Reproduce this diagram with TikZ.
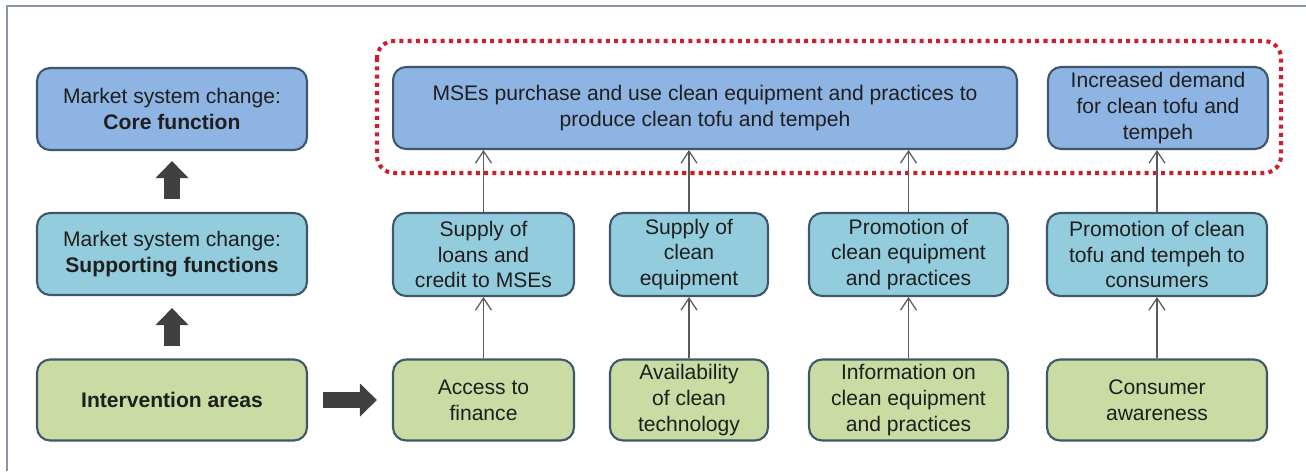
\documentclass[tikz,border=0pt]{standalone}
\usepackage{fontspec}
\setmainfont{Liberation Sans}
\usetikzlibrary{
    positioning,
    arrows.meta
}
\definecolor{coreblue}{HTML}{8EB4E3}
\definecolor{suppblue}{HTML}{93CDDD}
\definecolor{intgreen}{HTML}{CADCA3}
\definecolor{boxline}{HTML}{3F566B}
\definecolor{arrgray}{HTML}{5A5A5A}
\definecolor{dotred}{HTML}{CC1F2E}
\definecolor{framegray}{HTML}{8A96A3}

\tikzset{
    fnbox/.style={draw=boxline, line width=1.2pt, rounded corners=0.26cm,
        align=center, inner sep=1pt, text=black!88,
        font=\fontsize{12}{14.7}\selectfont},
    corebox/.style={fnbox, fill=coreblue},
    suppbox/.style={fnbox, fill=suppblue},
    intbox/.style={fnbox, fill=intgreen},
    thinarr/.style={draw=arrgray, line width=0.7pt,
        -{Straight Barb[length=0.24cm, width=0.32cm]}},
    fatarr/.style={draw=black!75, line width=0.32cm,
        -{Triangle[length=0.34cm, width=0.64cm]}}
}

\begin{document}
\begin{tikzpicture}[x=0.02cm, y=-0.02cm]
    \useasboundingbox (0,0) rectangle (1306,471);
    % frame
    \draw[framegray, line width=1.3pt] (7,471) -- (7,6) -- (1306,6);

    % left column
    \node[corebox, minimum width=5.4cm, minimum height=1.64cm] (core) at (172,109)
        {Market system change:\\\textbf{Core function}};
    \node[suppbox, minimum width=5.4cm, minimum height=1.64cm] (supp) at (172,254)
        {Market system change:\\\textbf{Supporting functions}};
    \node[intbox, minimum width=5.4cm, minimum height=1.62cm] (interv) at (172,400)
        {\textbf{Intervention areas}};

    % core function row
    \node[corebox, minimum width=12.48cm, minimum height=1.64cm] (mses) at (705,108)
        {MSEs purchase and use clean equipment and practices to\\produce clean tofu and tempeh};
    \node[corebox, minimum width=4.4cm, minimum height=1.64cm] (demand) at (1158,108)
        {Increased demand\\for clean tofu and\\tempeh};

    % supporting functions row
    \node[suppbox, minimum width=3.62cm, minimum height=1.66cm] (loans) at (483.5,254.5)
        {Supply of\\loans and\\credit to MSEs};
    \node[suppbox, minimum width=3.16cm, minimum height=1.66cm] (equip) at (689,254.5)
        {Supply of\\clean\\equipment};
    \node[suppbox, minimum width=3.98cm, minimum height=1.66cm] (promo) at (908.5,254.5)
        {Promotion of\\clean equipment\\and practices};
    \node[suppbox, minimum width=4.4cm, minimum height=1.66cm] (tofu) at (1157,254.5)
        {Promotion of clean\\tofu and tempeh to\\consumers};

    % intervention areas row
    \node[intbox, minimum width=3.62cm, minimum height=1.62cm] (finance) at (483.5,400)
        {Access to\\finance};
    \node[intbox, minimum width=3.16cm, minimum height=1.62cm] (techn) at (689,400)
        {Availability\\of clean\\technology};
    \node[intbox, minimum width=3.98cm, minimum height=1.62cm] (info) at (908.5,400)
        {Information on\\clean equipment\\and practices};
    \node[intbox, minimum width=4.4cm, minimum height=1.62cm] (aware) at (1157,400)
        {Consumer\\awareness};

    % dotted outline round the core function row
    \draw[dotred, line width=2.3pt, dash pattern=on 2.3pt off 2.4pt, rounded corners=0.34cm]
        (377,41) rectangle (1281,173);

    % fat arrows
    \path (supp.north) ++(0,-13) coordinate (s1);
    \path (core.south) ++(0,10) coordinate (t1);
    \path (interv.north) ++(0,-12) coordinate (s2);
    \path (supp.south) ++(0,12) coordinate (t2);
    \path (interv.east) ++(15,0) coordinate (s3);
    \path (finance.west) ++(-15,0) coordinate (t3);
    \draw[fatarr] (s1) -- (t1);
    \draw[fatarr] (s2) -- (t2);
    \draw[fatarr] (s3) -- (t3);

    % thin arrows
    \draw[thinarr] (finance.north) -- (loans.south);
    \draw[thinarr] (techn.north) -- (equip.south);
    \draw[thinarr] (info.north) -- (promo.south);
    \draw[thinarr] (aware.north) -- (tofu.south);
    \draw[thinarr] (loans.north) -- (loans.north |- mses.south);
    \draw[thinarr] (equip.north) -- (equip.north |- mses.south);
    \draw[thinarr] (promo.north) -- (promo.north |- mses.south);
    \draw[thinarr] (tofu.north) -- (tofu.north |- demand.south);
\end{tikzpicture}
\end{document}
